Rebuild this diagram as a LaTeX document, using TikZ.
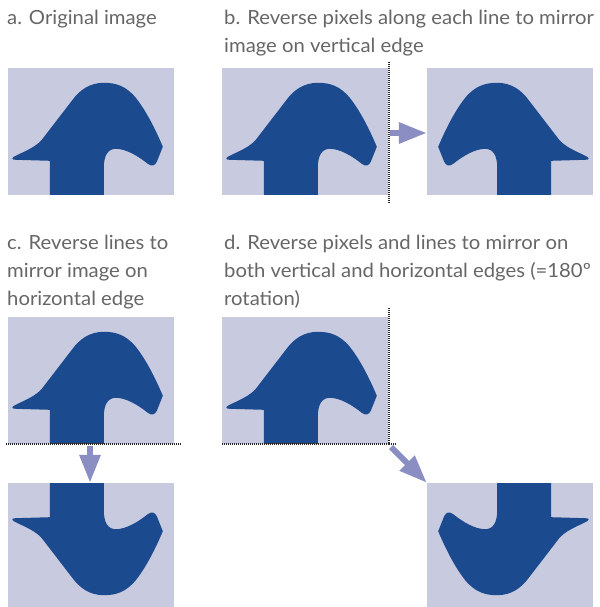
\documentclass[tikz,border=0pt]{standalone}
\usepackage{fontspec}
\setmainfont{Lato}[FakeStretch=1.04]
\usetikzlibrary{arrows.meta}
\definecolor{panelbg}{HTML}{C8CADF}
\definecolor{shapeblue}{HTML}{1B4A8F}
\definecolor{arrowc}{HTML}{8A8EC2}
\definecolor{textc}{HTML}{666666}
\tikzset{
  panel/.style={rectangle, fill=panelbg, draw=none, inner sep=0pt,
    minimum width=166pt, minimum height=127pt},
  caption/.style={anchor=base west, inner sep=0pt, text=textc,
    font=\fontsize{19.5}{28}\selectfont},
  cutline/.style={draw=black!85, line width=1.1pt, dash pattern=on 1pt off 1pt},
  flow/.style={draw=arrowc, line width=6pt, -{Triangle[width=20pt,length=28pt,fill=arrowc]}},
  keyshape/.pic={
    \fill[shapeblue] (42,93) -- (42,127) -- (96,127) -- (96,100)
      .. controls (96,88) and (100,81) .. (108,81)
      .. controls (118,81) and (130,88) .. (140,96)
      .. controls (144,99) and (147,98) .. (149,94)
      -- (155,79)
      .. controls (150,67) and (140,45) .. (128,30)
      .. controls (118,18) and (108,15) .. (96,15)
      .. controls (82,15) and (72,22) .. (64,33)
      -- (34,72)
      .. controls (28,79) and (18,83) .. (10,87)
      .. controls (3,90) and (3,92) .. (8,92) -- cycle;
  }
}
\begin{document}
\begin{tikzpicture}[x=1pt, y=-1pt]
  \clip (0,0) rectangle (599,607);

  % captions
  \node[caption] (ta)  at (7,25)   {a. Original image};
  \node[caption] (tb1) at (224,25) {b. Reverse pixels along each line to mirror};
  \node[caption] (tb2) at (224,53) {image on vertical edge};
  \node[caption] (tc1) at (7,249)  {c. Reverse lines to};
  \node[caption] (tc2) at (7,277)  {mirror image on};
  \node[caption] (tc3) at (7,305)  {horizontal edge};
  \node[caption] (td1) at (224,249) {d. Reverse pixels and lines to mirror on};
  \node[caption] (td2) at (224,277) {both vertical and horizontal edges (=180º};
  \node[caption] (td3) at (224,305) {rotation)};

  % image panels
  \node[panel] (a)  at (91,131.5)  {};
  \node[panel] (b1) at (305,131.5) {};
  \node[panel] (b2) at (510,131.5) {};
  \node[panel] (c1) at (91,380.5)  {};
  \node[panel] (c2) at (91,546.5)  {};
  \node[panel] (d1) at (305,380.5) {};
  \node[panel] (d2) at (510,546.5) {};

  % the figure in each panel, original and mirrored
  \pic at (a.north west)  {keyshape};
  \pic at (b1.north west) {keyshape};
  \pic[xscale=-1] at (b2.north east) {keyshape};
  \pic at (c1.north west) {keyshape};
  \pic[yscale=-1] at (c2.south west) {keyshape};
  \pic at (d1.north west) {keyshape};
  \pic[xscale=-1, yscale=-1] at (d2.south east) {keyshape};

  % mirror edges
  \draw[cutline] (389,62) coordinate (bt) -- (389,204) coordinate (bb);
  \draw[cutline] (6,444) coordinate (cl) -- (181,444) coordinate (cr);
  \draw[cutline] (389,308) coordinate (dt) -- (389,444) coordinate (dc) -- (222,444) coordinate (dl);
  \draw[cutline] (dc) -- (397,444) coordinate (dr);

  % arrows from mirror edge to result
  \coordinate (bcut) at (390,133);
  \coordinate (ccut) at (90,446);
  \coordinate (dcut) at (391,447);
  \draw[flow] (bcut) -- (bcut -| b2.west);
  \draw[flow] (ccut) -- (ccut |- c2.north);
  \draw[flow] (dcut) -- (d2.north west);
\end{tikzpicture}
\end{document}
